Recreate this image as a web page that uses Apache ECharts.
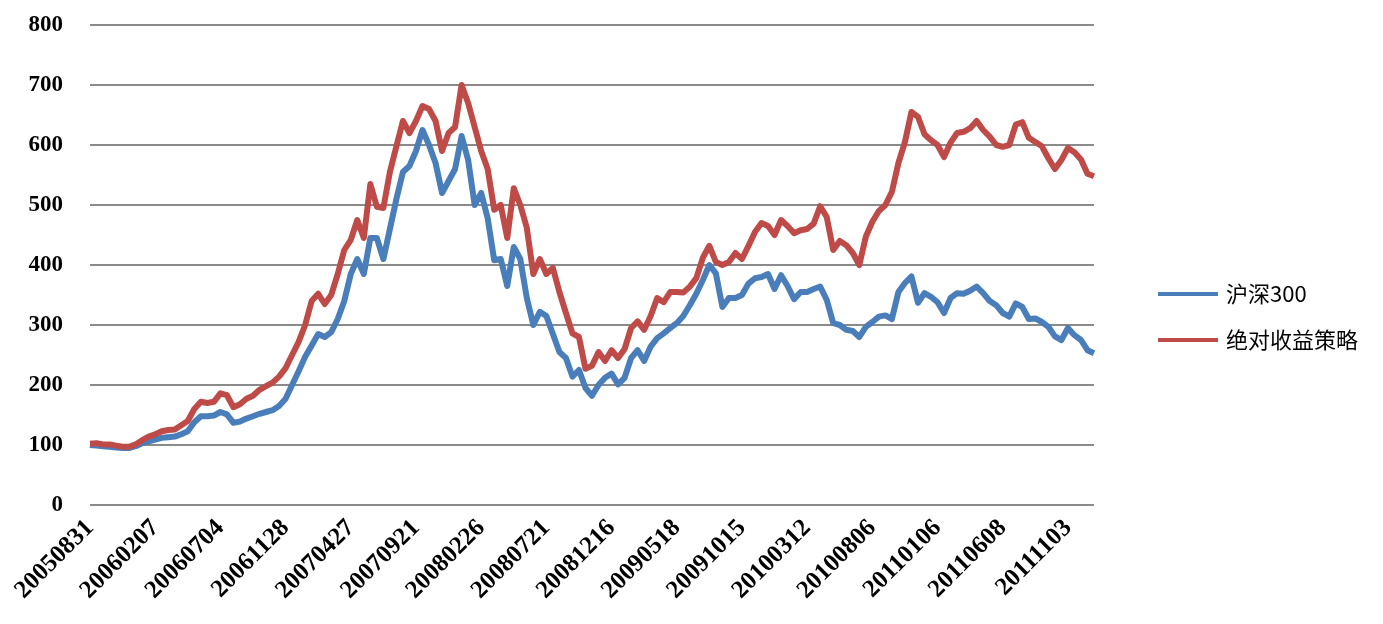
<!DOCTYPE html>
<html>
<head>
<meta charset="utf-8">
<script src="https://cdn.jsdelivr.net/npm/echarts@6/dist/echarts.min.js"></script>
<style>
html,body{margin:0;padding:0;background:#fff;}
#chart{width:1383px;height:624px;}
</style>
</head>
<body>
<div id="chart"></div>
<script>
const seriesNames = ['沪深300', '绝对收益策略'];
const tickLabels = ['20050831','20060207','20060704','20061128','20070427','20070921','20080226','20080721','20081216','20090518','20091015','20100312','20100806','20110106','20110608','20111103'];
const yTicks = [0, 100, 200, 300, 400, 500, 600, 700, 800];

const hs300 = [100,99,98,97,96,95,95,98,103,106,
109,112,113,114,118,123,138,148,148,149,
155,151,137,139,144,148,152,155,158,165,
177,200,223,247,266,285,280,288,310,340,
385,410,385,445,445,410,460,510,555,565,
590,625,600,570,520,540,560,615,575,500,
520,478,408,410,365,430,410,345,300,322,
315,285,255,245,214,225,195,182,200,212,
219,201,212,245,258,240,264,278,286,295,
303,315,333,352,375,400,386,330,345,345,
350,369,378,380,385,360,383,365,343,355,
355,360,364,342,303,300,292,290,280,297,
305,314,316,310,355,370,381,337,353,347,
338,320,345,353,352,357,364,353,340,333,
320,314,336,330,310,311,305,297,281,275,
295,283,275,258,253];

const strategy = [102,103,101,101,99,97,97,101,108,114,
118,123,125,126,133,140,160,172,170,172,
186,183,163,168,177,182,192,198,204,214,
228,250,272,300,340,352,335,350,385,425,
442,475,445,535,497,495,555,598,640,620,
640,665,660,640,590,620,630,700,670,630,
590,560,492,500,445,528,500,462,385,410,
385,395,355,320,286,280,227,232,255,240,
258,245,260,295,306,292,315,345,338,355,
355,354,364,378,412,432,405,400,405,420,
410,432,455,470,465,450,475,465,453,458,
460,469,498,480,425,440,433,420,400,447,
472,490,500,522,570,605,655,647,618,608,
600,580,604,620,622,628,640,625,614,600,
597,600,634,638,612,605,598,578,560,575,
595,588,576,552,548];

const categories = hs300.map((_, i) => (i % 10 === 0 && tickLabels[i / 10]) ? tickLabels[i / 10] : String(i));

const chart = echarts.init(document.getElementById('chart'), null, {renderer: 'canvas'});
chart.setOption({
  animation: false,
  backgroundColor: '#ffffff',
  grid: {left: 90, right: 289, top: 25, bottom: 119, containLabel: false},
  legend: {
    orient: 'vertical',
    left: 1153,
    top: 277,
    icon: 'rect',
    itemWidth: 60,
    itemHeight: 4,
    itemGap: 22,
    data: seriesNames,
    textStyle: {
      fontFamily: '"Noto Sans CJK SC", sans-serif',
      fontSize: 22,
      lineHeight: 24,
      color: '#000',
      padding: [0, 0, 0, 3]
    }
  },
  xAxis: {
    type: 'category',
    data: categories,
    boundaryGap: false,
    axisLine: {show: false},
    axisTick: {show: false},
    axisLabel: {
      interval: 9,
      rotate: 45,
      margin: 19,
      color: '#000',
      fontFamily: '"Liberation Serif", "Times New Roman", serif',
      fontWeight: 'bold',
      fontSize: 25
    },
    splitLine: {show: false}
  },
  yAxis: {
    type: 'value',
    min: yTicks[0],
    max: yTicks[yTicks.length - 1],
    interval: 100,
    axisLine: {show: false},
    axisTick: {show: false},
    axisLabel: {
      margin: 27,
      color: '#000',
      fontFamily: '"Liberation Serif", "Times New Roman", serif',
      fontWeight: 'bold',
      fontSize: 23
    },
    splitLine: {show: true, lineStyle: {color: '#8a8a8a', width: 2}}
  },
  series: [
    {
      name: seriesNames[0],
      type: 'line',
      data: hs300,
      showSymbol: false,
      symbol: 'none',
      color: '#4A7EBB',
      lineStyle: {width: 6, color: '#4A7EBB', join: 'round'}
    },
    {
      name: seriesNames[1],
      type: 'line',
      data: strategy,
      showSymbol: false,
      symbol: 'none',
      color: '#BE4B48',
      lineStyle: {width: 6, color: '#BE4B48', join: 'round'}
    }
  ]
});
</script>
</body>
</html>
